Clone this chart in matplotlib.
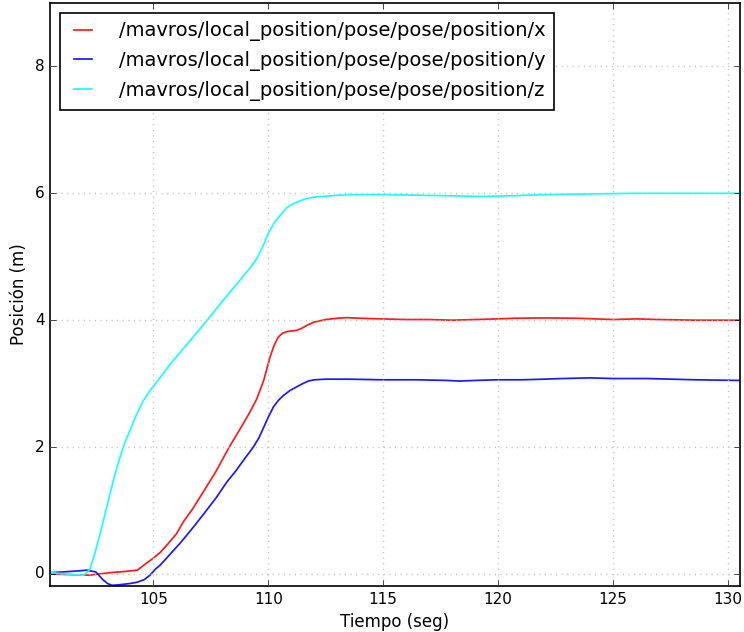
import numpy as np
import matplotlib
matplotlib.use('Agg')
import matplotlib.pyplot as plt

# Datos (tiempo en seg, posicion en m)
t_x = [100.5, 101.3, 102.2, 103.1, 103.8, 104.3, 104.7, 105.0, 105.3, 105.6, 106.0, 106.3,
       106.7, 107.2, 107.7, 108.3, 108.8, 109.2, 109.5, 109.8, 110.07, 110.25, 110.43,
       110.6, 110.8, 111.0, 111.24, 111.45, 111.74, 112.0, 112.5, 113.0, 113.4, 114.0,
       114.9, 116.0, 117.0, 118.0, 119.0, 120.0, 120.7, 122.1, 123.5, 125.0, 126.0,
       127.0, 128.6, 130.53]
pos_x = [0.0, -0.01, -0.02, 0.02, 0.04, 0.06, 0.17, 0.25, 0.34, 0.46, 0.63, 0.82,
         1.02, 1.31, 1.6, 2.0, 2.3, 2.55, 2.76, 3.05, 3.41, 3.6, 3.73,
         3.79, 3.82, 3.83, 3.84, 3.87, 3.93, 3.97, 4.01, 4.03, 4.04, 4.03,
         4.02, 4.01, 4.01, 4.0, 4.01, 4.02, 4.03, 4.035, 4.03, 4.01, 4.02,
         4.01, 4.0, 4.0]

t_y = [100.5, 101.0, 101.4, 101.8, 102.1, 102.5, 102.8, 103.0, 103.2, 103.55, 104.0,
       104.3, 104.6, 104.85, 105.1, 105.3, 105.7, 106.2, 106.7, 107.2, 107.75, 108.2,
       108.6, 109.0, 109.35, 109.6, 109.8, 110.0, 110.22, 110.45, 110.65, 110.94,
       111.24, 111.5, 111.74, 112.0, 112.5, 113.5, 115.0, 116.5, 117.8, 118.3, 119.0,
       119.9, 121.0, 122.0, 122.8, 124.0, 125.0, 126.5, 128.6, 130.53]
pos_y = [0.02, 0.03, 0.04, 0.05, 0.06, 0.03, -0.09, -0.15, -0.18, -0.17, -0.15,
         -0.13, -0.09, -0.02, 0.08, 0.14, 0.3, 0.5, 0.72, 0.95, 1.21, 1.45,
         1.63, 1.83, 2.0, 2.15, 2.31, 2.47, 2.63, 2.74, 2.81, 2.89,
         2.95, 3.0, 3.04, 3.06, 3.07, 3.07, 3.06, 3.06, 3.05, 3.04, 3.05,
         3.06, 3.06, 3.07, 3.08, 3.09, 3.08, 3.08, 3.06, 3.05]

t_z = [100.5, 101.2, 101.95, 102.1, 102.24, 102.45, 102.68, 102.9, 103.11, 103.35,
       103.55, 103.75, 103.98, 104.25, 104.56, 104.85, 105.2, 105.72, 106.3, 107.3,
       108.03, 108.7, 109.2, 109.5, 109.75, 110.0, 110.25, 110.51, 110.8, 111.0,
       111.24, 111.6, 112.0, 112.68, 113.5, 115.0, 116.5, 118.0, 119.2, 120.5,
       122.0, 124.0, 126.0, 128.0, 129.35, 130.53]
pos_z = [0.02, 0.0, -0.02, 0.02, 0.08, 0.32, 0.63, 0.95, 1.26, 1.6,
         1.84, 2.06, 2.26, 2.5, 2.73, 2.89, 3.05, 3.3, 3.55, 3.98,
         4.31, 4.6, 4.82, 4.97, 5.15, 5.37, 5.53, 5.65, 5.77, 5.82,
         5.86, 5.91, 5.94, 5.96, 5.98, 5.98, 5.97, 5.96, 5.95, 5.96,
         5.98, 5.99, 6.0, 6.0, 6.0, 6.0]

etiquetas = ['/mavros/local_position/pose/pose/position/x',
             '/mavros/local_position/pose/pose/position/y',
             '/mavros/local_position/pose/pose/position/z']

plt.style.use('classic')
plt.rcParams['font.family'] = ['DejaVu Sans']

fig = plt.figure(figsize=(7.44, 6.32), dpi=100, facecolor='white')
ax = fig.add_axes([0.0672, 0.0728, 0.9274, 0.9225])
ax.set_facecolor('white')

ax.plot(t_x, pos_x, color='#ff1a1a', lw=1.25, label=etiquetas[0])
ax.plot(t_y, pos_y, color='#1a1aff', lw=1.25, label=etiquetas[1])
ax.plot(t_z, pos_z, color='#1affff', lw=1.25, label=etiquetas[2])

ax.set_xlim(100.5, 130.53)
ax.set_ylim(-0.19, 9.0)
ax.set_xticks([105, 110, 115, 120, 125, 130])
ax.set_yticks([0, 2, 4, 6, 8])
ax.tick_params(labelsize=11, direction='in', top=True, right=True)
ax.grid(True, linestyle=(0, (0.8, 3.2)), color='#c0c0c0', lw=1.0)
for s in ax.spines.values():
    s.set_linewidth(1.2)

ax.set_xlabel('Tiempo (seg)', fontsize=12)
ax.set_ylabel('Posición (m)', fontsize=12)

leg = ax.legend(loc='upper left', fontsize=14, handlelength=1.5, handletextpad=1.1,
                borderpad=0.45, labelspacing=0.5, borderaxespad=0.5,
                fancybox=False, framealpha=1.0)
leg.get_frame().set_edgecolor('black')
leg.get_frame().set_linewidth(1.2)

fig.savefig('out.png', dpi=100, facecolor='white')
